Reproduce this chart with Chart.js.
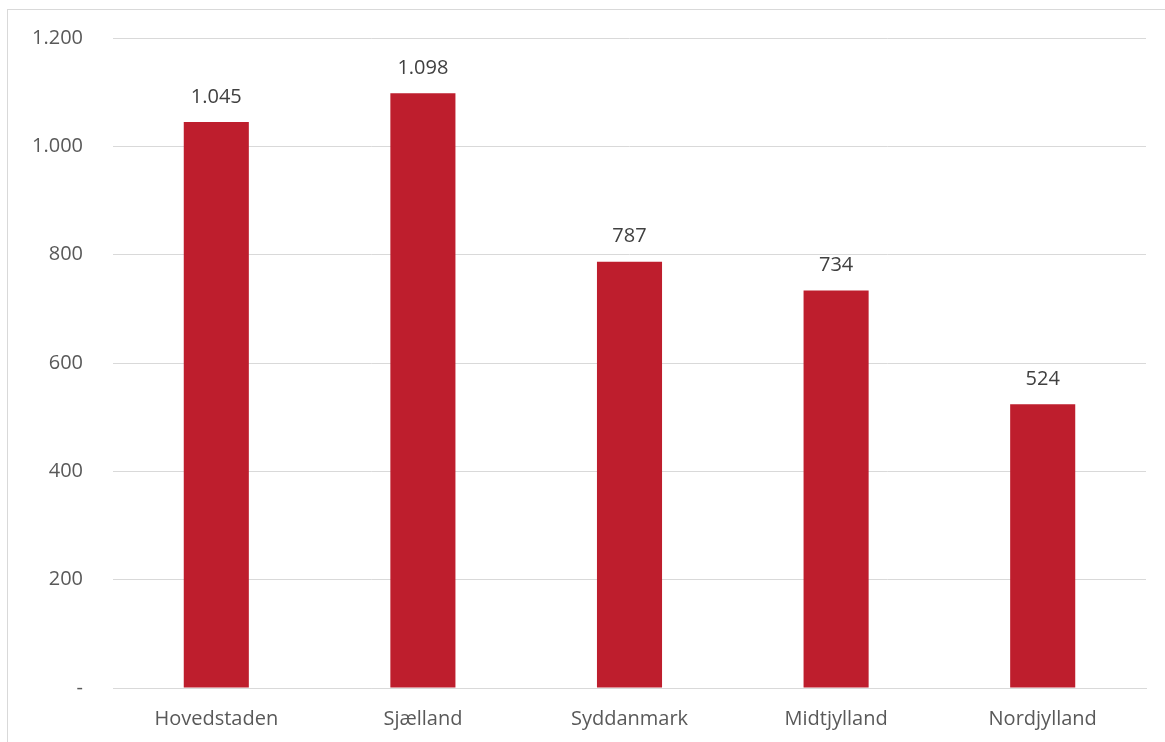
<!DOCTYPE html>
<html>
<head>
<meta charset="utf-8">
<script src="https://cdn.jsdelivr.net/npm/chart.js@4"></script>
<style>
  html, body { margin: 0; padding: 0; background: #fff; }
  #wrap { position: relative; width: 1165px; height: 742px; overflow: hidden; }
  #frame { position: absolute; left: 7px; top: 9px; width: 1200px; height: 800px; border: 1px solid #d9d9d9; }
  #chart { position: absolute; left: 0; top: -4px; }
</style>
</head>
<body>
<div id="wrap">
  <div id="frame"></div>
  <canvas id="chart" width="1165" height="746"></canvas>
</div>
<script>
const regioner = ['Hovedstaden', 'Sjælland', 'Syddanmark', 'Midtjylland', 'Nordjylland'];
const antal = [1045, 1098, 787, 734, 524];
const yMin = 0;
const yMax = 1200;
const yStep = 200;

function formatDk(v) {
    if (v === 0) return '-';
    return String(v).replace(/\B(?=(\d{3})+(?!\d))/g, '.');
}

// værdier over søjlerne
const barLabels = {
    id: 'barLabels',
    afterDatasetsDraw(chart) {
        const ctx = chart.ctx;
        ctx.save();
        ctx.font = '20px "Open Sans", sans-serif';
        ctx.fillStyle = '#404040';
        ctx.textAlign = 'center';
        ctx.textBaseline = 'middle';
        chart.getDatasetMeta(0).data.forEach(function (bar, i) {
            ctx.fillText(formatDk(antal[i]), bar.x, bar.y - 25);
        });
        ctx.restore();
    }
};

const ctx = document.getElementById('chart').getContext('2d');

new Chart(ctx, {
    type: 'bar',
    data: {
        labels: regioner,
        datasets: [{
            data: antal,
            backgroundColor: '#BE1E2D',
            borderWidth: 0,
            barPercentage: 0.63,
            categoryPercentage: 0.5
        }]
    },
    options: {
        responsive: false,
        animation: false,
        layout: { padding: { left: 0, top: 32, right: 19, bottom: 0 } },
        plugins: {
            legend: { display: false },
            tooltip: { enabled: false }
        },
        scales: {
            y: {
                min: yMin,
                max: yMax,
                ticks: {
                    stepSize: yStep,
                    padding: 30,
                    color: '#595959',
                    font: { family: '"Open Sans", sans-serif', size: 20 },
                    callback: function (v) { return formatDk(v); }
                },
                grid: { color: '#d9d9d9', lineWidth: 1, drawTicks: false },
                border: { display: false },
                afterFit: function (scale) { scale.width = 113; }
            },
            x: {
                ticks: {
                    padding: 19,
                    color: '#595959',
                    font: { family: '"Open Sans", sans-serif', size: 20 }
                },
                grid: { display: false, drawTicks: false },
                border: { display: true, color: '#d9d9d9' },
                afterFit: function (scale) { scale.height = 54; }
            }
        }
    },
    plugins: [barLabels]
});
</script>
</body>
</html>
